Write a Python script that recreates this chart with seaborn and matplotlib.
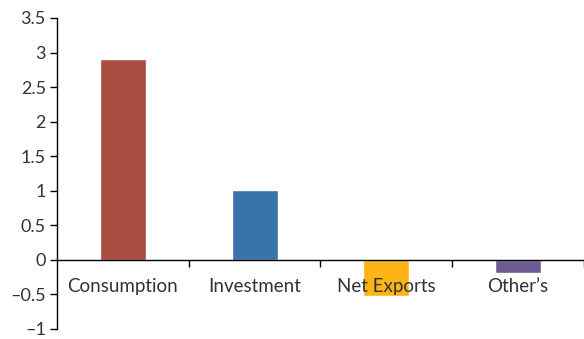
import matplotlib
matplotlib.use("Agg")
import matplotlib.pyplot as plt
import matplotlib.ticker as mticker
import seaborn as sns
import pandas as pd

categories = ["Consumption", "Investment", "Net Exports", "Other\u2019s"]
values = [2.91, 1.01, -0.52, -0.19]
colors = ["#A84C40", "#3A72AB", "#FDB515", "#6C5C93"]
y_ticks = [-1, -0.5, 0, 0.5, 1, 1.5, 2, 2.5, 3, 3.5]

sns.set_theme(style="white")
plt.rcParams["font.family"] = ["Lato", "DejaVu Sans"]

df = pd.DataFrame({"category": categories, "value": values})

fig = plt.figure(figsize=(5.84, 3.39), dpi=100)
ax = fig.add_axes([0.0976, 0.0295, 0.9024, 0.9175])

sns.barplot(data=df, x="category", y="value", hue="category",
            palette=colors, width=0.35, legend=False, ax=ax,
            saturation=1)

ax.set_axisbelow(False)
ax.set_xlim(-0.5, 3.5)
ax.set_ylim(-1, 3.5)
ax.set_xlabel("")
ax.set_ylabel("")

for side in ["top", "right"]:
    ax.spines[side].set_visible(False)
for side in ["left", "bottom"]:
    ax.spines[side].set_color("#000000")
    ax.spines[side].set_linewidth(1.0)
ax.spines["bottom"].set_position(("data", 0))

ax.yaxis.set_major_locator(mticker.FixedLocator(y_ticks))
ax.yaxis.set_major_formatter(mticker.FuncFormatter(lambda v, p: f"{v:g}".replace("-", "\u2013")))
ax.tick_params(axis="y", which="major", left=True, length=5, width=1.0,
               color="#000000", pad=3, labelsize=13, labelcolor="#333333")

ax.xaxis.set_minor_locator(mticker.FixedLocator([0.5, 1.5, 2.5, 3.5]))
ax.tick_params(axis="x", which="major", bottom=False, length=0, pad=13,
               labelsize=13.5, labelcolor="#333333")
ax.tick_params(axis="x", which="minor", bottom=True, length=5, width=1.0,
               color="#000000", direction="out")

fig.savefig("out.png", dpi=100)
